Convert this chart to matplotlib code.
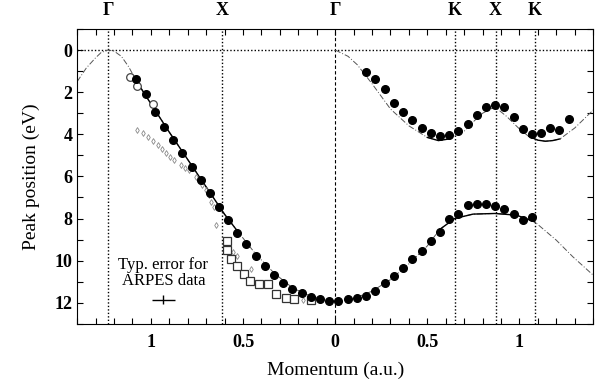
#required imports
import matplotlib
matplotlib.use("Agg")
import matplotlib.pyplot as plt
from matplotlib.ticker import MultipleLocator, FuncFormatter

#-----------------------------------------------
# data (left half = negative momentum)
#-----------------------------------------------
# symmetry points on top
sym_labels = ["\u0393", "X", "\u0393", "K", "X", "K"]
sym_pos = [-1.232, -0.614, 0.0, 0.648, 0.870, 1.083]

# ARPES peaks, filled circles
arpes_x = [-1.082, -1.028, -0.978, -0.928, -0.880, -0.830, -0.779, -0.730, -0.681,
           -0.629, -0.582, -0.531, -0.482, -0.431, -0.380, -0.334, -0.283, -0.232,
           -0.181, -0.130, -0.084, -0.035, 0.016, 0.069, 0.120, 0.168, 0.217, 0.268,
           0.318, 0.367, 0.418, 0.469, 0.518, 0.568, 0.620, 0.668, 0.719, 0.768,
           0.817, 0.867, 0.918, 0.969, 1.018, 1.067]
arpes_y = [1.38, 2.11, 2.96, 3.66, 4.29, 4.88, 5.55, 6.18, 6.81,
           7.43, 8.09, 8.68, 9.20, 9.79, 10.25, 10.68, 11.04, 11.33,
           11.53, 11.72, 11.83, 11.90, 11.90, 11.83, 11.75, 11.68, 11.42, 11.07,
           10.73, 10.33, 9.92, 9.52, 9.09, 8.65, 8.03, 7.78, 7.35, 7.31,
           7.31, 7.41, 7.54, 7.78, 8.07, 7.95]

# upper band on the right, filled circles
upper_x = [0.168, 0.217, 0.268, 0.318, 0.367, 0.418, 0.469, 0.518, 0.568, 0.620,
           0.668, 0.719, 0.768, 0.817, 0.867, 0.918, 0.969, 1.018, 1.067, 1.117,
           1.168, 1.217, 1.268]
upper_y = [1.03, 1.36, 1.87, 2.50, 2.92, 3.31, 3.68, 3.93, 4.09, 4.04,
           3.83, 3.50, 3.10, 2.72, 2.61, 2.72, 3.18, 3.74, 4.01, 3.93,
           3.68, 3.79, 3.29]

# open circles
ocirc_x = [-1.113, -1.076, -0.991]
ocirc_y = [1.28, 1.70, 2.55]

# open squares
osq_x = [-0.589, -0.589, -0.567, -0.533, -0.497, -0.460, -0.413, -0.366, -0.319,
         -0.268, -0.225, -0.130]
osq_y = [9.06, 9.50, 9.93, 10.23, 10.61, 10.96, 11.10, 11.12, 11.56,
         11.79, 11.82, 11.88]

# small grey symbols
grey_x = [-1.073, -1.045, -1.018, -0.990, -0.964, -0.940, -0.918, -0.895, -0.873,
          -0.837, -0.815, -0.792, -0.755, -0.740, -0.720, -0.700, -0.683, -0.674,
          -0.656, -0.647, -0.557, -0.530, -0.457, -0.176]
grey_y = [3.80, 3.95, 4.12, 4.30, 4.52, 4.70, 4.91, 5.08, 5.23,
          5.47, 5.58, 5.70, 6.02, 6.20, 6.42, 6.65, 6.89, 7.20,
          7.45, 8.32, 9.59, 9.80, 10.38, 11.88]

# calculated bands
band1_x = [-1.40, -1.35, -1.30, -1.27, -1.232, -1.20, -1.16, -1.12, -1.08, -1.00,
           -0.90, -0.80, -0.70, -0.60, -0.53, -0.43, -0.33, -0.23, -0.13, -0.06,
           0.00, 0.10, 0.20, 0.30, 0.40, 0.50, 0.567, 0.648, 0.748, 0.866,
           0.984, 1.083, 1.20, 1.29, 1.40]
band1_y = [1.50, 0.85, 0.37, 0.12, 0.00, 0.05, 0.30, 0.80, 1.45, 2.55,
           3.90, 5.20, 6.50, 7.80, 8.60, 9.70, 10.60, 11.30, 11.70, 11.85,
           11.90, 11.80, 11.45, 10.90, 10.15, 9.30, 8.52, 8.00, 7.79, 7.76,
           7.84, 8.16, 9.03, 9.82, 10.69]

band2_x = [0.00, 0.07, 0.12, 0.20, 0.30, 0.40, 0.50, 0.56, 0.62, 0.70,
           0.75, 0.80, 0.866, 0.93, 1.00, 1.05, 1.10, 1.14, 1.18, 1.22, 1.30, 1.40]
band2_y = [0.00, 0.30, 0.70, 1.60, 2.80, 3.60, 4.15, 4.30, 4.22, 3.85,
           3.40, 3.00, 2.70, 3.15, 3.75, 4.10, 4.28, 4.33, 4.30, 4.22, 3.70, 2.85]

# typical error bar
err_x, err_y = -0.932, 11.85
err_dx, err_dy = 0.063, 0.21

#===============================================
# plotting
#===============================================
plt.rcParams["font.family"] = ["Liberation Serif", "DejaVu Serif"]

fig = plt.figure(figsize=(5.98, 3.81), dpi=100)
ax = fig.add_axes([0.129, 0.150, 0.863, 0.774])

#symmetry lines
for p in sym_pos:
  if p == 0.0:
    ax.axvline(p, color="black", lw=0.8, ls=(0, (3, 2)))
  else:
    ax.axvline(p, color="black", lw=1.0, ls=(0, (1, 1.5)))
  ax.text(p, -1.45, sym_labels[sym_pos.index(p)], ha="center", va="bottom",
          fontsize=13, fontweight="bold")
ax.axhline(0, color="black", lw=1.0, ls=(0, (1, 1.5)))

#calculated bands, thin grey dash-dot with solid parts near the data
ax.plot(band1_x, band1_y, color="#555555", lw=0.7, ls=(0, (6, 2, 1, 2)))
ax.plot(band2_x, band2_y, color="#555555", lw=0.7, ls=(0, (6, 2, 1, 2)))
ax.plot(band1_x[8:15], band1_y[8:15], color="black", lw=1.0)
ax.plot(band1_x[26:32], band1_y[26:32], color="black", lw=1.0)
ax.plot(band2_x[6:9], band2_y[6:9], color="black", lw=1.0)
ax.plot(band2_x[15:20], band2_y[15:20], color="black", lw=1.0)

#data
ax.plot(grey_x, grey_y, ls="none", marker="d", ms=3, mfc="none",
        mec="#888888", mew=0.6)
ax.plot(osq_x, osq_y, ls="none", marker="s", ms=5.5, mfc="white",
        mec="#333333", mew=0.9)
ax.plot(ocirc_x, ocirc_y, ls="none", marker="o", ms=5.5, mfc="white",
        mec="#444444", mew=0.9)
ax.plot(arpes_x, arpes_y, ls="none", marker="o", ms=5.5, color="black")
ax.plot(upper_x, upper_y, ls="none", marker="o", ms=5.5, color="black")

#error legend
ax.errorbar([err_x], [err_y], xerr=err_dx, yerr=err_dy, color="black",
            lw=1.0, capsize=0)
ax.text(err_x, 10.6, "Typ. error for\nARPES data", ha="center", va="center",
        fontsize=12, linespacing=1.0)

#axes
ax.set_xlim(-1.4, 1.4)
ax.set_ylim(13, -1)
ax.xaxis.set_major_locator(MultipleLocator(0.5))
ax.xaxis.set_minor_locator(MultipleLocator(0.1))
ax.yaxis.set_major_locator(MultipleLocator(2))
ax.yaxis.set_minor_locator(MultipleLocator(1))
ax.xaxis.set_major_formatter(FuncFormatter(lambda v, p: "%g" % abs(round(v, 2))))
ax.tick_params(which="both", direction="in", top=True, right=True,
               length=4, width=0.8, labelsize=13)
ax.tick_params(axis="x", pad=7)
for lab in ax.get_xticklabels() + ax.get_yticklabels():
  lab.set_fontweight("bold")

ax.set_xlabel("Momentum (a.u.)", fontsize=14, labelpad=8)
ax.set_ylabel("Peak position (eV)", fontsize=14, labelpad=10)

#export
plt.savefig("out.png", dpi=100)
